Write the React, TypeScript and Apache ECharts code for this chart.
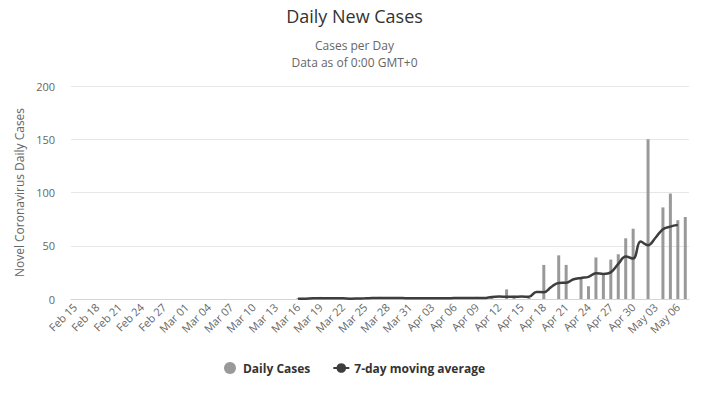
import React, { useEffect, useRef } from "react";
import * as echarts from "echarts";

const categories: string[] = [
  "Feb 15", "Feb 16", "Feb 17", "Feb 18", "Feb 19", "Feb 20", "Feb 21", "Feb 22", "Feb 23", "Feb 24",
  "Feb 25", "Feb 26", "Feb 27", "Feb 28", "Feb 29", "Mar 01", "Mar 02", "Mar 03", "Mar 04", "Mar 05",
  "Mar 06", "Mar 07", "Mar 08", "Mar 09", "Mar 10", "Mar 11", "Mar 12", "Mar 13", "Mar 14", "Mar 15",
  "Mar 16", "Mar 17", "Mar 18", "Mar 19", "Mar 20", "Mar 21", "Mar 22", "Mar 23", "Mar 24", "Mar 25",
  "Mar 26", "Mar 27", "Mar 28", "Mar 29", "Mar 30", "Mar 31", "Apr 01", "Apr 02", "Apr 03", "Apr 04",
  "Apr 05", "Apr 06", "Apr 07", "Apr 08", "Apr 09", "Apr 10", "Apr 11", "Apr 12", "Apr 13", "Apr 14",
  "Apr 15", "Apr 16", "Apr 17", "Apr 18", "Apr 19", "Apr 20", "Apr 21", "Apr 22", "Apr 23", "Apr 24",
  "Apr 25", "Apr 26", "Apr 27", "Apr 28", "Apr 29", "Apr 30", "May 01", "May 02", "May 03", "May 04",
  "May 05", "May 06", "May 07",
];

const dailyCases: (number | null)[] = [
  null, null, null, null, null, null, null, null, null, null,
  null, null, null, null, null, null, null, null, null, null,
  null, null, null, null, null, null, null, null, null, null,
  1, 0, 0, 2, 0, 0, 0, 0, 0, 1,
  0, 2, 1, 0, 1, 0, 1, 0, 1, 0,
  0, 1, 0, 1, 2, 0, 1, 0, 9, 3,
  0, 1, 0, 32, 0, 41, 32, 0, 20, 12,
  39, 24, 37, 42, 57, 66, 0, 150, 0, 86,
  99, 74, 77,
];

const movingAverage: (number | null)[] = [
  null, null, null, null, null, null, null, null, null, null,
  null, null, null, null, null, null, null, null, null, null,
  null, null, null, null, null, null, null, null, null, null,
  0.3, 0.3, 0.6, 0.6, 0.6, 0.6, 0.6, 0.3, 0.4, 0.6,
  0.9, 0.9, 0.9, 1.0, 0.9, 0.7, 0.7, 0.6, 0.6, 0.6,
  0.7, 0.9, 0.9, 1.0, 1.0, 0.9, 1.9, 2.3, 2.1, 2.0,
  2.3, 2.0, 6.6, 6.4, 11.3, 15.1, 15.2, 18.5, 19.8, 20.8,
  24.2, 23.5, 25.0, 33.0, 39.8, 38.0, 53.9, 50.5, 57.5, 65.6,
  68.0, 69.6, null,
];

const yTicks = { min: 0, max: 200, interval: 50 };

const FONT = "'Open Sans', 'DejaVu Sans', sans-serif";

export default function App() {
  const ref = useRef<HTMLDivElement>(null);
  useEffect(() => {
    if (!ref.current) return;
    const chart = echarts.init(ref.current, undefined, { renderer: "svg" });
    chart.setOption({
      animation: false,
      backgroundColor: "#ffffff",
      textStyle: { fontFamily: FONT },
      graphic: [
        {
          type: "text",
          left: "center",
          top: 7,
          style: { text: "Daily New Cases", font: `18px ${FONT}`, fill: "#333333" },
        },
        {
          type: "text",
          left: "center",
          top: 39,
          style: { text: "Cases per Day", font: `12px ${FONT}`, fill: "#666666" },
        },
        {
          type: "text",
          left: "center",
          top: 56,
          style: { text: "Data as of 0:00 GMT+0", font: `12px ${FONT}`, fill: "#666666" },
        },
      ],
      grid: { left: 71, right: 20, top: 86, bottom: 98, containLabel: false },
      legend: {
        bottom: 18,
        left: "center",
        itemGap: 22,
        itemWidth: 16,
        itemHeight: 12,
        textStyle: { fontFamily: FONT, fontSize: 12, fontWeight: "bold", color: "#333333" },
        data: [
          { name: "Daily Cases", icon: "circle" },
          { name: "7-day moving average" },
        ],
      },
      xAxis: {
        type: "category",
        data: categories,
        boundaryGap: true,
        axisLine: { lineStyle: { color: "#ccd6eb" } },
        axisTick: { show: false },
        axisLabel: {
          interval: 2,
          rotate: 45,
          color: "#666666",
          fontSize: 11,
          fontFamily: FONT,
          margin: 6,
        },
      },
      yAxis: {
        type: "value",
        min: yTicks.min,
        max: yTicks.max,
        interval: yTicks.interval,
        name: "Novel Coronavirus Daily Cases",
        nameLocation: "middle",
        nameGap: 46,
        nameTextStyle: { color: "#666666", fontSize: 12, fontFamily: FONT },
        axisLine: { show: false },
        axisTick: { show: false },
        axisLabel: { color: "#666666", fontSize: 11, fontFamily: FONT, margin: 16 },
        splitLine: { lineStyle: { color: "#e6e6e6" } },
      },
      series: [
        {
          name: "Daily Cases",
          type: "bar",
          data: dailyCases,
          barWidth: 3,
          itemStyle: { color: "#999999" },
        },
        {
          name: "7-day moving average",
          type: "line",
          data: movingAverage,
          smooth: 0.4,
          symbol: "circle",
          symbolSize: 7,
          showSymbol: false,
          lineStyle: { color: "#3d3d3d", width: 2.5 },
          itemStyle: { color: "#3d3d3d" },
        },
      ],
    });
    return () => chart.dispose();
  }, []);
  return (
    <div
      ref={ref}
      style={{ position: "fixed", left: 0, top: 0, width: 709, height: 397 }}
    />
  );
}
